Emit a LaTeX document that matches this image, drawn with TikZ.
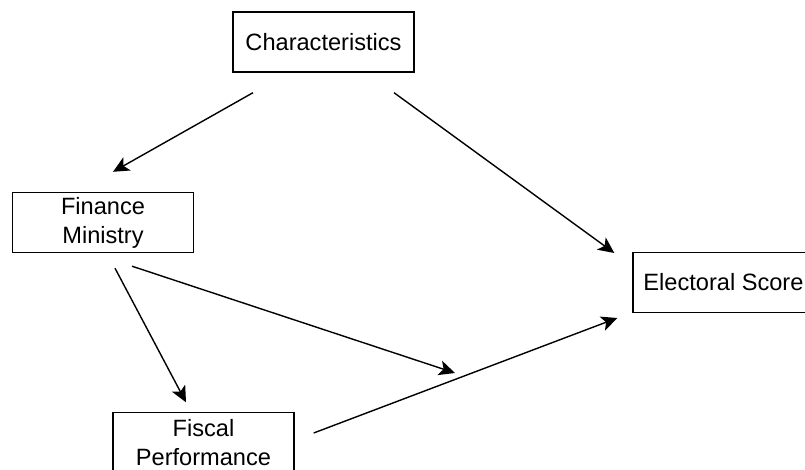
\documentclass[tikz,border=0pt]{standalone}
\usepackage{fontspec}
\setmainfont{Liberation Sans}
\usetikzlibrary{arrows.meta}
\tikzset{
  box/.style={draw,line width=0.7pt,minimum width=90.5pt,minimum height=30pt,
    inner sep=0pt,align=center,font=\fontsize{11.8}{14.5}\selectfont},
  link/.style={line width=0.7pt,-{Stealth[length=8pt,width=7.5pt,inset=2pt]}}
}
\begin{document}
\begin{tikzpicture}[x=0.5pt,y=-0.5pt]
  \useasboundingbox (0,0) rectangle (805,470);
  % boxes
  \node[box] (char) at (323.5,42) {Characteristics};
  \node[box] (fin) at (103,222.5) {Finance\\Ministry};
  \node[box] (fisc) at (203.5,442.5) {Fiscal\\Performance};
  \node[box] (elec) at (723.5,282.5) {Electoral Score};
  % arrow ends
  \coordinate (char-l) at ([shift={(-70.5,20)}]char.south);
  \coordinate (char-r) at ([shift={(70.5,20)}]char.south);
  \coordinate (fin-in) at ([shift={(10,-20)}]fin.north);
  \coordinate (fin-a) at ([shift={(29,13)}]fin.south);
  \coordinate (fin-b) at ([shift={(12,15)}]fin.south);
  \coordinate (fisc-in) at ([shift={(-17.5,-9.5)}]fisc.north);
  \coordinate (fisc-out) at ([shift={(19,-9.5)}]fisc.east);
  \coordinate (elec-a) at ([shift={(-18,-29.5)}]elec.west);
  \coordinate (elec-b) at ([shift={(-15,35.5)}]elec.west);
  \coordinate (mod) at (455,373);
  % arrows
  \draw[link] (char-l) -- (fin-in);
  \draw[link] (char-r) -- (elec-a);
  \draw[link] (fin-a) -- (mod);
  \draw[link] (fin-b) -- (fisc-in);
  \draw[link] (fisc-out) -- (elec-b);
\end{tikzpicture}
\end{document}
